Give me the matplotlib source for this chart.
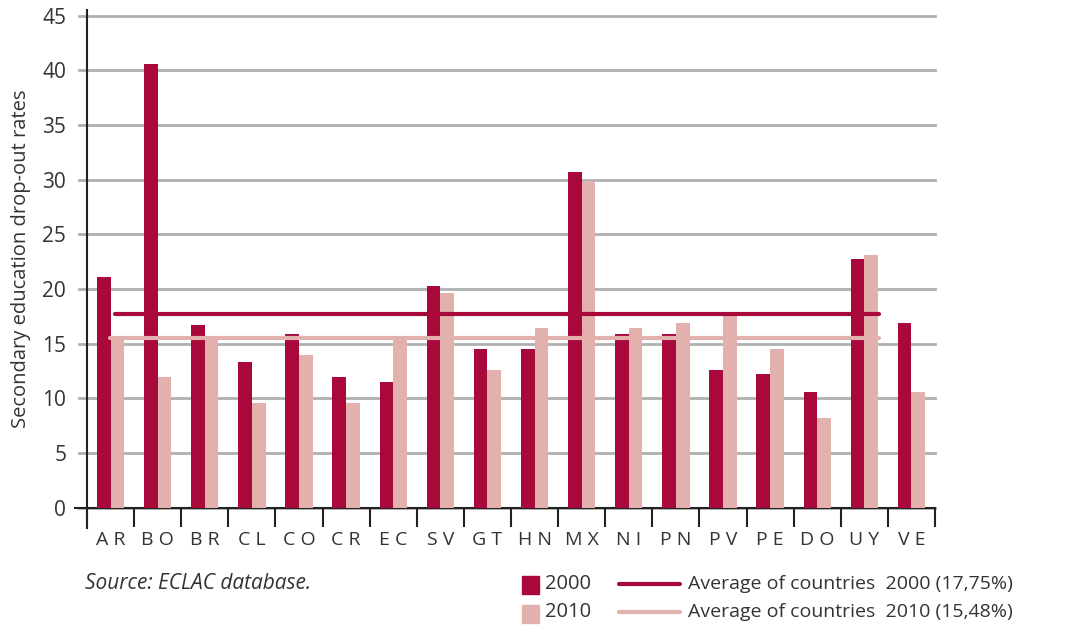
import matplotlib
matplotlib.use("Agg")
import matplotlib.pyplot as plt
import numpy as np
from matplotlib.patches import Rectangle
from matplotlib.lines import Line2D

plt.rcParams["font.family"] = ["Open Sans", "DejaVu Sans"]

countries = ["AR", "BO", "BR", "CL", "CO", "CR", "EC", "SV", "GT",
             "HN", "MX", "NI", "PN", "PV", "PE", "DO", "UY", "VE"]
rates_2000 = [21.1, 40.6, 16.7, 13.3, 15.9, 12.0, 11.5, 20.3, 14.5,
              14.5, 30.7, 15.9, 15.9, 12.6, 12.2, 10.6, 22.7, 16.9]
rates_2010 = [15.5, 12.0, 15.5, 9.6, 14.0, 9.6, 15.3, 19.6, 12.6,
              16.4, 29.9, 16.4, 16.9, 17.6, 14.5, 8.2, 23.1, 10.6]
avg_2000 = 17.75
avg_2010 = 15.48
yticks = [0, 5, 10, 15, 20, 25, 30, 35, 40, 45]

dark = "#a8083a"
light = "#e2b0ad"
grey = "#b0b0b0"
text_col = "#333333"

fig = plt.figure(figsize=(10.69, 6.27), dpi=100)
ax = fig.add_axes([0.0814, 0.19, 0.7933, 0.794])

x = np.arange(len(countries))
w = 0.29
ax.bar(x - w / 2, rates_2000, w, color=dark, zorder=3)
ax.bar(x + w / 2, rates_2010, w, color=light, zorder=3)

# average lines
ax.plot([0.09, 16.30], [avg_2000, avg_2000], color=dark, lw=3,
        solid_capstyle="round", zorder=4)
ax.plot([-0.01, 16.30], [avg_2010, avg_2010], color=light, lw=3,
        solid_capstyle="round", zorder=4)

ax.set_xlim(-0.5, len(countries) - 0.5)
ax.set_ylim(0, 45.5)

for t in yticks:
    ax.axhline(t, color=grey, lw=2, zorder=1, xmin=-0.009, clip_on=False)

ax.set_yticks(yticks)
ax.tick_params(axis="y", length=0, pad=15, labelsize=15, labelcolor=text_col)
ax.set_xticks(x)
ax.set_xticklabels([" ".join(c) for c in countries])
ax.tick_params(axis="x", which="major", length=0, pad=17, labelsize=14,
               labelcolor=text_col)
ax.set_xticks(np.arange(len(countries) + 1) - 0.5, minor=True)
ax.tick_params(axis="x", which="minor", length=14, width=1.5, color="#222222",
               direction="out")

for s in ["top", "right"]:
    ax.spines[s].set_visible(False)
ax.spines["left"].set_color("#222222")
ax.spines["left"].set_linewidth(1.5)
ax.spines["left"].set_bounds(-1.8, 45.5)
ax.spines["bottom"].set_color("#222222")
ax.spines["bottom"].set_linewidth(1.5)
ax.spines["bottom"].set_bounds(-0.75, len(countries) - 0.5)

ax.set_ylabel("Secondary education drop-out rates", fontsize=14.5,
              color=text_col, labelpad=8)

fig.text(0.0795, 0.0686, "Source: ECLAC database.", fontsize=15,
         style="italic", color=text_col, va="center")

# legend
fig.add_artist(Rectangle((0.4885, 0.0526), 0.0159, 0.0287, color=dark,
                         transform=fig.transFigure))
fig.add_artist(Rectangle((0.4885, 0.0064), 0.0159, 0.0287, color=light,
                         transform=fig.transFigure))
fig.text(0.510, 0.0686, "2000", fontsize=14.5, color=text_col, va="center")
fig.text(0.510, 0.024, "2010", fontsize=14.5, color=text_col, va="center")
fig.add_artist(Line2D([0.579, 0.636], [0.0686, 0.0686], color=dark, lw=3,
                      solid_capstyle="round", transform=fig.transFigure))
fig.add_artist(Line2D([0.579, 0.636], [0.024, 0.024], color=light, lw=3,
                      solid_capstyle="round", transform=fig.transFigure))
fig.text(0.6436, 0.0686, "Average of countries  2000 (17,75%)", fontsize=14,
         color=text_col, va="center")
fig.text(0.6436, 0.024, "Average of countries  2010 (15,48%)", fontsize=14,
         color=text_col, va="center")

fig.savefig("out.png", dpi=100)
